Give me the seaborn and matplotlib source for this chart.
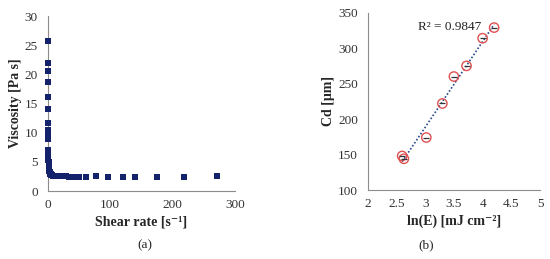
import numpy as np
import pandas as pd
import matplotlib
matplotlib.use("Agg")
import matplotlib.pyplot as plt
import seaborn as sns

sns.set_style("white")
plt.rcParams["font.family"] = ["Liberation Serif", "DejaVu Serif"]

# (a) viscosity vs shear rate
shear_rate = [0.05, 0.1, 0.15, 0.2, 0.25, 0.3, 0.35, 0.4, 0.5, 0.55, 0.6, 0.7, 0.8, 0.9,
              1.0, 1.2, 1.4, 1.6, 1.8, 2.0, 2.4, 2.8, 3.3, 4.0, 5.0, 6.0, 7.5, 9.0,
              11, 13, 15, 18, 21, 24, 27, 30, 34, 38, 42, 46, 50,
              62, 77, 96, 121, 140, 175, 218, 272]
viscosity = [25.8, 22.0, 20.5, 18.7, 16.1, 14.0, 11.6, 10.5, 10.0, 9.5, 9.0, 7.0, 6.6, 6.2,
             5.8, 5.4, 5.0, 4.6, 4.3, 4.0, 3.7, 3.4, 3.2, 3.0, 2.9, 2.8, 2.7, 2.65,
             2.6, 2.6, 2.55, 2.55, 2.5, 2.5, 2.5, 2.5, 2.45, 2.45, 2.45, 2.45, 2.45,
             2.4, 2.5, 2.4, 2.4, 2.4, 2.4, 2.4, 2.5]

# (b) Cd vs ln(E)
ln_e = [2.60, 2.63, 3.02, 3.30, 3.50, 3.72, 4.00, 4.20]
cd = [148, 144, 174, 222, 260, 275, 314, 329]
r2_text = "R² = 0.9847"

navy = "#13226b"
spine_col = "#8c8c8c"
tick_fs = 9.5
label_fs = 10

fig = plt.figure(figsize=(5.5, 2.59), dpi=100)
ax1 = fig.add_axes([0.0867, 0.2625, 0.3403, 0.6755])
ax2 = fig.add_axes([0.6685, 0.2664, 0.3135, 0.6846])

df_a = pd.DataFrame({"x": shear_rate, "y": viscosity})
sns.scatterplot(data=df_a, x="x", y="y", ax=ax1, marker="s", s=20,
                color=navy, edgecolor=navy, linewidth=0, clip_on=False, zorder=3)
ax1.set_xlim(0, 300)
ax1.set_ylim(0, 30)
ax1.set_xticks([0, 100, 200, 300])
ax1.set_yticks(range(0, 31, 5))
ax1.set_xlabel("Shear rate [s⁻¹]", fontsize=label_fs, fontweight="bold", labelpad=3)
ax1.set_ylabel("Viscosity [Pa s]", fontsize=label_fs, fontweight="bold", labelpad=2)

df_b = pd.DataFrame({"x": ln_e, "y": cd})
sns.regplot(data=df_b, x="x", y="y", ax=ax2, ci=None, scatter=False, truncate=True,
            line_kws={"color": "#2b4a8a", "linestyle": (0, (1, 1.2)), "linewidth": 1.2})
sns.scatterplot(data=df_b, x="x", y="y", ax=ax2, marker="o", s=45,
                facecolor="none", edgecolor="#e05050", linewidth=1.0, zorder=4)
sns.scatterplot(data=df_b, x="x", y="y", ax=ax2, marker="_", s=16,
                color="#333333", linewidth=0.9, zorder=5)
ax2.set_xlim(2, 5)
ax2.set_ylim(100, 350)
ax2.set_xticks([2, 2.5, 3, 3.5, 4, 4.5, 5])
ax2.set_xticklabels(["2", "2.5", "3", "3.5", "4", "4.5", "5"])
ax2.set_yticks(range(100, 351, 50))
ax2.set_xlabel("ln(E) [mJ cm⁻²]", fontsize=label_fs, fontweight="bold", labelpad=3)
ax2.set_ylabel("Cd [μm]", fontsize=label_fs, fontweight="bold", labelpad=2)
ax2.text(2.88, 330, r2_text, fontsize=tick_fs, ha="left", va="center", color="#222222")

for ax in (ax1, ax2):
    sns.despine(ax=ax)
    for s in ("left", "bottom"):
        ax.spines[s].set_color(spine_col)
        ax.spines[s].set_linewidth(0.8)
    ax.tick_params(length=0, labelsize=tick_fs, colors="#333333")
    ax.tick_params(axis="x", pad=6)
    ax.tick_params(axis="y", pad=7)

fig.text(0.264, 0.04, "(a)", fontsize=tick_fs, ha="center")
fig.text(0.775, 0.04, "(b)", fontsize=tick_fs, ha="center")

fig.savefig("out.png", dpi=100)
